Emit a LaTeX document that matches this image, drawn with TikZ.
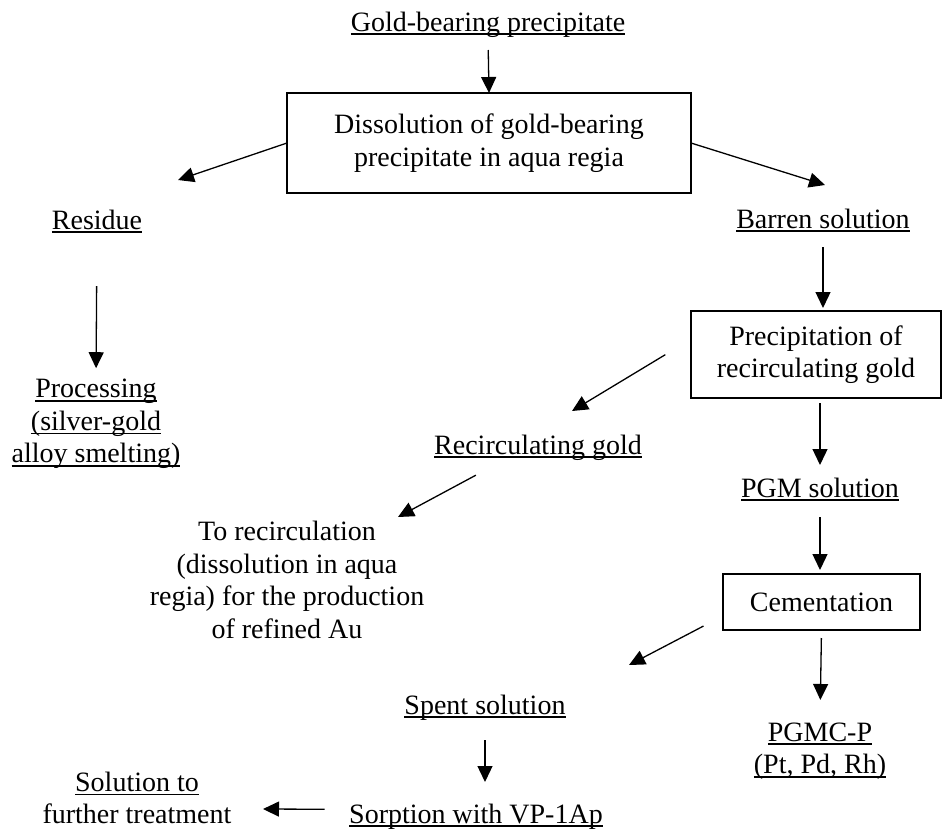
\documentclass[tikz,border=0pt]{standalone}
\usepackage{fontspec}
\setmainfont{Liberation Serif}
\usetikzlibrary{arrows.meta}
\newcommand{\ulline}[1]{\setbox0=\hbox{#1}\rlap{\rule[-4pt]{\wd0}{1.6pt}}\box0}
\tikzset{
  flowtext/.style={inner sep=0pt, outer sep=0pt, anchor=base, text height=20pt, text depth=6pt},
  flowblock/.style={inner sep=0pt, outer sep=0pt, align=center},
  stagebox/.style={draw, line width=2pt, inner sep=0pt, outer sep=0pt, align=center},
  flowarrow/.style={line width=1.3pt, -{Triangle[length=16pt,width=15pt]}}
}
\begin{document}
\begin{tikzpicture}[x=1pt, y=-1pt, font=\fontsize{28pt}{32.5pt}\selectfont]
\useasboundingbox (0,0) rectangle (943,831);
\node[flowtext] (gold) at (488,31) {\ulline{Gold-bearing precipitate}};
\node[
  stagebox,
  minimum width=404pt,
  minimum height=100pt
] (dissol) at (489,143) {Dissolution of gold-bearing\\precipitate in aqua regia};
\node[flowtext] (residue) at (97,229) {\ulline{Residue}};
\node[flowtext] (barren) at (823,228) {\ulline{Barren solution}};
\node[flowblock] (proc) at (96,424) {\ulline{Processing}\\\ulline{(silver-gold}\\\ulline{alloy smelting)}};
\node[
  stagebox,
  minimum width=250pt,
  minimum height=87pt
] (precip) at (816,354.5) {Precipitation of\\recirculating gold};
\node[flowtext] (recgold) at (538,454) {\ulline{Recirculating gold}};
\node[flowblock] (torec) at (287,580) {To recirculation\\(dissolution in aqua\\regia) for the production\\of refined Au};
\node[flowtext] (pgm) at (820,497) {\ulline{PGM solution}};
\node[
  stagebox,
  minimum width=197pt,
  minimum height=56pt
] (cement) at (821.5,602) {Cementation};
\node[flowtext] (spent) at (485,714) {\ulline{Spent solution}};
\node[flowblock] (pgmc) at (820,751) {\ulline{PGMC-P}\\\ulline{(Pt, Pd, Rh)}};
\node[flowtext] (sorp) at (476,823) {\ulline{Sorption with VP-1Ap}};
\node[flowblock] (sol) at (137,798) {\ulline{Solution to}\\further treatment};

\coordinate (res-in) at (178,180);
\coordinate (bar-in) at (825,185);
\coordinate (rg-in) at (572,411);
\coordinate (tr-in) at (398,517);
\coordinate (sp-in) at (629,665);
\coordinate (sol-in) at (263,809);

\draw[flowarrow, shorten <=13pt] (gold.south) -- (dissol.north);
\draw[flowarrow] (dissol.west) -- (res-in);
\draw[flowarrow] (dissol.east) -- (bar-in);
\draw[flowarrow, shorten <=51pt, shorten >=11pt] (residue.south) -- (proc.north);
\draw[flowarrow, shorten <=13pt, shorten >=3pt] (barren.south) -- (barren.south |- precip.north);
\draw[flowarrow, shorten <=30pt] (precip.173) -- (rg-in);
\draw[flowarrow, shorten <=32pt] (recgold.201) -- (tr-in);
\draw[flowarrow, shorten <=5pt, shorten >=12pt] (pgm.north |- precip.south) -- (pgm.north);
\draw[flowarrow, shorten <=14pt, shorten >=4pt] (pgm.south) -- (pgm.south |- cement.north);
\draw[flowarrow, shorten <=22pt] (cement.188) -- (sp-in);
\draw[flowarrow, shorten <=8pt, shorten >=22.5pt] (cement.south) -- (pgmc.north);
\draw[flowarrow, shorten <=20pt, shorten >=21pt] (spent.south) -- (spent.south |- sorp.north);
\draw[flowarrow, shorten <=24.5pt] (sorp.177) -- (sol-in);
\end{tikzpicture}
\end{document}
